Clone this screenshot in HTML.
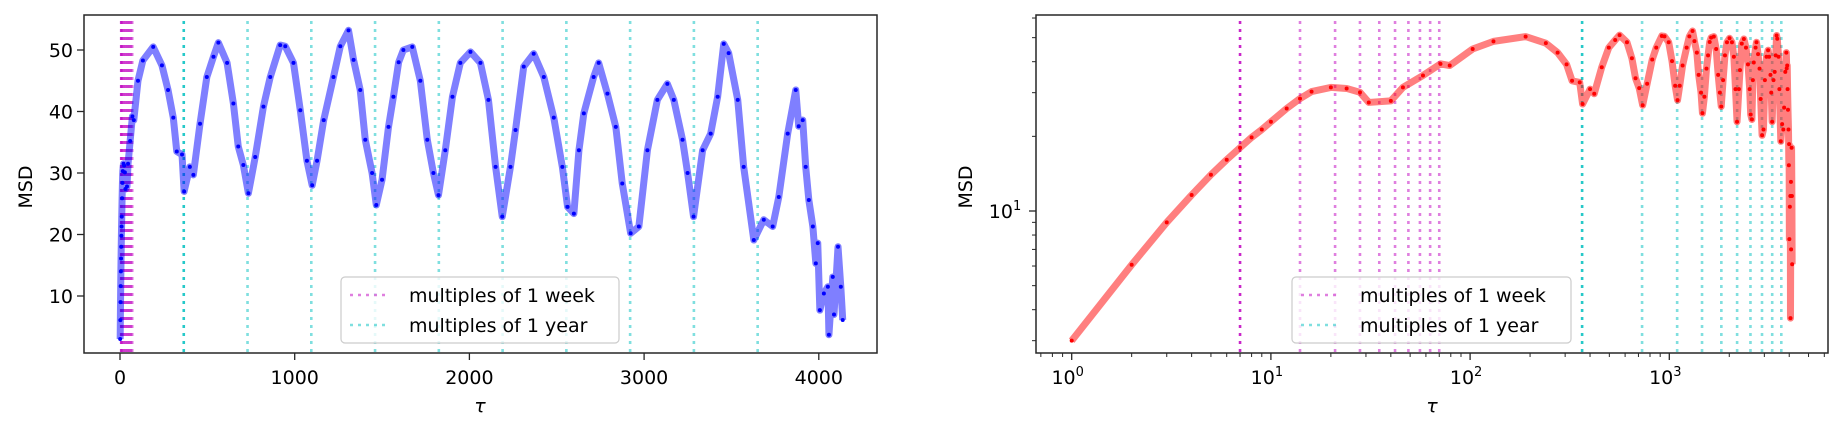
<!DOCTYPE html>
<html><head><meta charset="utf-8">
<style>
html,body{margin:0;padding:0;background:#fff;}
svg{display:block;font-family:"DejaVu Sans","Liberation Sans",sans-serif;}
</style></head>
<body>
<svg id="chart" width="1843" height="436" viewBox="0 0 1843 436" xmlns="http://www.w3.org/2000/svg">
<defs>
<clipPath id="clipL"><rect x="84" y="15" width="793" height="338"/></clipPath>
<clipPath id="clipR"><rect x="1036" y="15" width="792" height="338"/></clipPath>
</defs>
<g id="left"></g>
<g id="right"></g>
</svg>
<script>
const tauValues = [1,2,3,4,5,6,7,8,9,10,12,14,16,20,24,28,31,40,46,58,71,79,103,131,190,240,275,305,325,355,367,400,420,458,497,535,563,613,649,677,706,735,774,821,860,917,946,993,1032,1070,1100,1128,1166,1222,1261,1308,1337,1375,1404,1443,1467,1500,1537,1565,1595,1622,1673,1719,1759,1794,1823,1862,1903,1948,2006,2063,2109,2150,2188,2235,2264,2311,2368,2426,2483,2532,2562,2598,2627,2655,2711,2740,2790,2838,2875,2923,2970,3019,3076,3133,3170,3220,3249,3283,3335,3381,3421,3456,3484,3536,3570,3628,3685,3736,3771,3822,3868,3885,3908,3925,3943,3966,3983,3994,4006,4029,4052,4058,4080,4087,4110,4126,4137];
const msdValues = [3.0,6.07,9.0,11.6,14.0,16.1,18.0,19.8,21.3,22.9,25.9,28.4,30.3,31.5,31.2,30.1,27.4,27.8,31.5,35.2,39.2,38.6,45,48.3,50.5,47.5,43.5,39,33.5,33,27,31,29.7,38,45.6,48.9,51.2,47.9,41.3,34.3,31.3,26.7,32.6,40.8,45.6,50.8,50.6,47.9,40.2,32,28,32,38.6,45.6,50.6,53.2,48.4,43.5,35.4,30,24.8,28.9,37.5,42.4,48,50,50.5,45,35.4,30,26.4,33.7,42.4,47.9,49.7,47.9,41.9,31,22.9,31,37,47.3,49.4,45.6,39,31,24.5,23.4,33.7,39.7,45.6,47.9,42.9,37.5,28.3,20.2,21.3,33.7,41.9,44.5,41.9,35.4,30,22.9,33.7,36.4,42.4,51,49.5,41.9,31,19.1,22.4,21.3,26.1,36.4,43.5,37.6,38.6,31,25.6,21.3,15.3,18.6,7.7,10.4,11.5,3.7,13.1,7,18,11.5,6.1];
const weekMultiples = [7,14,21,28,35,42,49,56,63,70];
const yearMultiples = [365,730,1095,1460,1825,2190,2555,2920,3285,3650];
const leftXTicks = [0,1000,2000,3000,4000];
const leftYTicks = [10,20,30,40,50];
const rightXDecades = [0,1,2,3];
const rightYDecades = [1];

const NS="http://www.w3.org/2000/svg";
function mk(parent,tag,attrs,text){const e=document.createElementNS(NS,tag);for(const k in attrs)e.setAttribute(k,attrs[k]);if(text!==undefined)e.textContent=text;parent.appendChild(e);return e;}

const L={x0:84,x1:877,y0:15,y1:353};
const lx=t=>120+t*0.1747;
const ly=v=>357.5-v*6.15;
const R={x0:1036,x1:1828,y0:15,y1:353};
const rx=t=>1071.7+Math.log10(t)*199.2;
const ry=v=>211-(Math.log10(v)-1)*248;

function drawPanel(g,P,xf,yf,clip,lineColor,dotColor){
  weekMultiples.forEach((w,i)=>{
    const l=mk(g,'line',{x1:xf(w),x2:xf(w),y1:P.y0+6,y2:P.y1,stroke:'#bf00bf','stroke-opacity':i===0?0.85:0.5,'stroke-width':2.6,'stroke-dasharray':'3,5'});
    
    
  });
  yearMultiples.forEach((y,i)=>{
    const l=mk(g,'line',{x1:xf(y),x2:xf(y),y1:P.y0+6,y2:P.y1,stroke:'#00bfbf','stroke-opacity':i===0?0.85:0.5,'stroke-width':2.6,'stroke-dasharray':'3,5'});
    
    
  });
  const d=tauValues.map((t,i)=>(i?'L':'M')+xf(t).toFixed(2)+','+yf(msdValues[i]).toFixed(2)).join(' ');
  const p=mk(g,'path',{d:d,fill:'none',stroke:lineColor,'stroke-opacity':0.5,'stroke-width':7,'stroke-linejoin':'round','clip-path':'url(#'+clip+')'});
  
  
  tauValues.forEach((t,i)=>{
    const c=mk(g,'circle',{cx:xf(t),cy:yf(msdValues[i]),r:2,fill:dotColor,'clip-path':'url(#'+clip+')'});
    
    
  });
  const f=mk(g,'rect',{x:P.x0,y:P.y0,width:P.x1-P.x0,height:P.y1-P.y0,fill:'none',stroke:'#262626','stroke-width':1.5});
  
  
}

function legend(g,x,y,w){
  const lg=mk(g,'g',{});
  
  
  mk(lg,'rect',{x:x,y:y,width:w,height:66,rx:4,fill:'#fff','fill-opacity':0.8,stroke:'#cccccc','stroke-width':1.2});
  const e1=mk(lg,'g',{});
  
  
  mk(e1,'line',{x1:x+9,x2:x+46,y1:y+18,y2:y+18,stroke:'#bf00bf','stroke-opacity':0.5,'stroke-width':2.6,'stroke-dasharray':'3,5'});
  mk(e1,'text',{x:x+68,y:y+25,'font-size':19,fill:'#000'},'multiples of 1 week');
  const e2=mk(lg,'g',{});
  
  
  mk(e2,'line',{x1:x+9,x2:x+46,y1:y+48,y2:y+48,stroke:'#00bfbf','stroke-opacity':0.5,'stroke-width':2.6,'stroke-dasharray':'3,5'});
  mk(e2,'text',{x:x+68,y:y+55,'font-size':19,fill:'#000'},'multiples of 1 year');
}

const gl=document.getElementById('left');
drawPanel(gl,L,lx,ly,'clipL','#0000ff','#0000ff');
leftXTicks.forEach(t=>{
  const x=lx(t);
  mk(gl,'line',{x1:x,x2:x,y1:L.y1,y2:L.y1+7,stroke:'#262626','stroke-width':1.3});
  const tx=mk(gl,'text',{x:x,y:384,'font-size':19,'text-anchor':'middle'},String(t));
  
  
});
leftYTicks.forEach(v=>{
  const y=ly(v);
  mk(gl,'line',{x1:L.x0-7,x2:L.x0,y1:y,y2:y,stroke:'#262626','stroke-width':1.3});
  const tx=mk(gl,'text',{x:73,y:y+7,'font-size':19,'text-anchor':'end'},String(v));
  
  
});
const lyt=mk(gl,'text',{x:0,y:0,'font-size':19,'text-anchor':'middle',transform:'translate(32,187) rotate(-90)'},'MSD');


const lxt=mk(gl,'text',{x:480,y:412,'font-size':19,'text-anchor':'middle','font-style':'italic'},'τ');


legend(gl,341,277,278);

const gr=document.getElementById('right');
drawPanel(gr,R,rx,ry,'clipR','#ff0000','#ff0000');
for(let dec=-1;dec<=3;dec++){
  for(let m=1;m<=9;m++){
    const v=m*Math.pow(10,dec); const x=rx(v);
    if(x<R.x0||x>R.x1) continue;
    mk(gr,'line',{x1:x,x2:x,y1:R.y1,y2:R.y1+(m===1?7:4),stroke:'#262626','stroke-width':m===1?1.3:1});
  }
}
rightXDecades.forEach(dd=>{
  const x=rx(Math.pow(10,dd));
  const tx=mk(gr,'text',{x:x-4,y:384,'font-size':19,'text-anchor':'middle'});
  
  
  tx.textContent='10';
  mk(tx,'tspan',{dy:-8,'font-size':13},String(dd));
});
for(let dec=0;dec<=1;dec++){
  for(let m=1;m<=9;m++){
    const v=m*Math.pow(10,dec); const y=ry(v);
    if(y<R.y0-1||y>R.y1) continue;
    mk(gr,'line',{x1:R.x0-(m===1?7:4),x2:R.x0,y1:y,y2:y,stroke:'#262626','stroke-width':m===1?1.3:1});
  }
}
rightYDecades.forEach(dd=>{
  const y=ry(Math.pow(10,dd));
  const tx=mk(gr,'text',{x:1005,y:y+7,'font-size':19,'text-anchor':'middle'});
  
  
  tx.textContent='10';
  mk(tx,'tspan',{dy:-8,'font-size':13},String(dd));
});
const ryt=mk(gr,'text',{x:0,y:0,'font-size':19,'text-anchor':'middle',transform:'translate(972,187) rotate(-90)'},'MSD');


const rxt=mk(gr,'text',{x:1432,y:412,'font-size':19,'text-anchor':'middle','font-style':'italic'},'τ');


legend(gr,1292,277,279);
</script>
</body></html>
